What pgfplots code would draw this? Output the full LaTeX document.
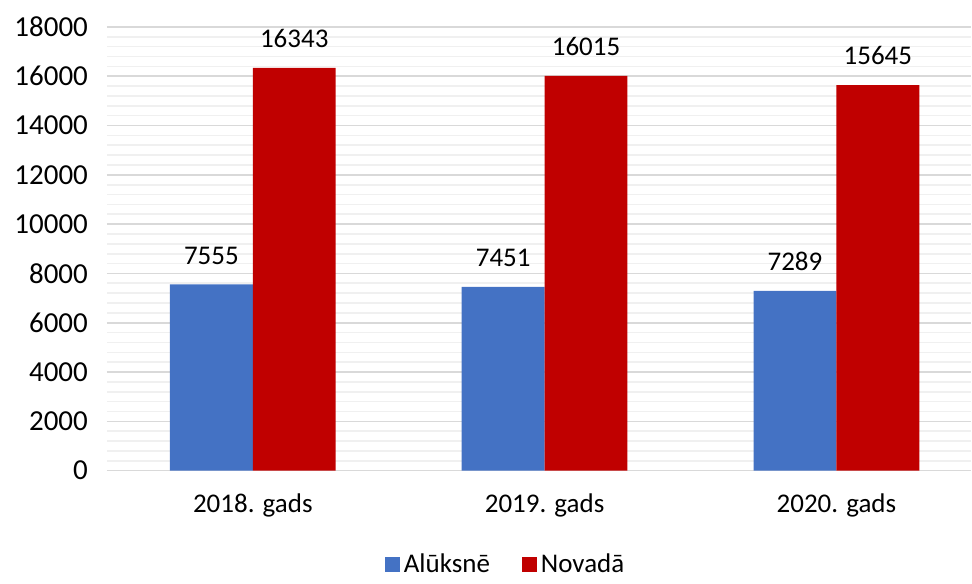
\documentclass[border=0pt]{standalone}
\usepackage{fontspec}
\setmainfont{Carlito}
\usepackage{pgfplots}
\pgfplotsset{compat=1.18}
\definecolor{cblue}{HTML}{4472C4}
\definecolor{cred}{HTML}{C00000}
\definecolor{majgrid}{HTML}{D9D9D9}
\definecolor{mingrid}{HTML}{F0F0F0}
\begin{document}
\begin{tikzpicture}
\begin{axis}[
    name=ax,
    scale only axis,
    width=432.5pt,
    height=222pt,
    font=\fontsize{13.5}{16}\selectfont,
    /pgf/number format/assume math mode=true,
    ybar,
    bar width=0.284,
    xmin=-0.5, xmax=2.462,
    ymin=0, ymax=18000,
    xtick={0,1,2},
    xticklabels={2018. gads,2019. gads,2020. gads},
    ytick={0,2000,...,18000},
    minor y tick num=4,
    scaled y ticks=false,
    yticklabel style={/pgf/number format/1000 sep={}, xshift=-6pt, font=\fontsize{14.5}{16}\selectfont},
    xticklabel style={yshift=-8pt},
    major tick length=0pt, minor tick length=0pt,
    ymajorgrids, yminorgrids,
    major grid style={majgrid, line width=0.8pt},
    minor grid style={mingrid, line width=0.8pt},
    axis y line*=left,
    y axis line style={draw=none},
    axis x line*=bottom,
    x axis line style={majgrid, line width=0.8pt, -},
    nodes near coords,
    every node near coord/.append style={font=\fontsize{13.5}{16}\selectfont, yshift=6.5pt, /pgf/number format/1000 sep={}},
    legend style={at={(0.4624,-0.2117)}, anchor=center, draw=none, fill=none,
        legend columns=2, /tikz/every even column/.append style={column sep=14pt},
        font=\fontsize{13.5}{16}\selectfont},
    legend image code/.code={\fill[#1] (0pt,-3.75pt) rectangle (7.5pt,3.75pt);},
]
\addplot[fill=cblue, draw=none, bar shift=-0.142] coordinates {(0,7555) (1,7451) (2,7289)};
\addplot[fill=cred, draw=none, bar shift=0.142] coordinates {(0,16343) (1,16015) (2,15645)};
\legend{Alūksnē,Novadā}
\end{axis}
\path[use as bounding box] ([xshift=-53.5pt, yshift=-52pt]ax.south west) rectangle ([yshift=13.5pt]ax.north east);
\end{tikzpicture}
\end{document}
